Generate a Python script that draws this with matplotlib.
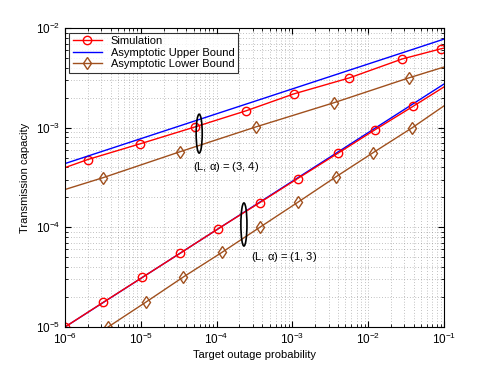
import numpy as np
import matplotlib
matplotlib.use('Agg')
import matplotlib.pyplot as plt
from matplotlib.patches import Ellipse

plt.rcParams['font.family'] = ['Liberation Sans', 'DejaVu Sans']
plt.rcParams['mathtext.fontset'] = 'custom'
plt.rcParams['mathtext.rm'] = 'Liberation Sans'
plt.rcParams['mathtext.it'] = 'Liberation Sans'

# (L, alpha) = (3, 4)
x_sim34 = [1e-6, 2.0e-6, 9.8e-6, 5.2e-5, 2.45e-4, 1.05e-3, 5.6e-3, 2.8e-2, 9.1e-2, 1e-1]
y_sim34 = [3.98e-4, 4.8e-4, 6.9e-4, 1.02e-3, 1.48e-3, 2.19e-3, 3.16e-3, 4.9e-3, 6.2e-3, 6.3e-3]
x_up34 = [1e-6, 1e-1]
y_up34 = [4.37e-4, 7.76e-3]
x_low34 = [1e-6, 3.2e-6, 3.3e-5, 3.3e-4, 3.5e-3, 3.4e-2, 1e-1]
y_low34 = [2.4e-4, 3.16e-4, 5.75e-4, 1.02e-3, 1.78e-3, 3.16e-3, 4.07e-3]

# (L, alpha) = (1, 3)
x_sim13 = [1e-6, 3.2e-6, 1.05e-5, 3.3e-5, 1.05e-4, 3.7e-4, 1.17e-3, 4.0e-3, 1.23e-2, 3.9e-2, 1e-1]
y_sim13 = [1e-5, 1.77e-5, 3.15e-5, 5.5e-5, 9.7e-5, 1.77e-4, 3.09e-4, 5.56e-4, 9.55e-4, 1.64e-3, 2.57e-3]
x_up13 = [1e-6, 1e-1]
y_up13 = [1e-5, 2.75e-3]
x_low13 = [3.7e-6, 1.17e-5, 3.6e-5, 1.17e-4, 3.7e-4, 1.17e-3, 3.8e-3, 1.15e-2, 3.8e-2, 1e-1]
y_low13 = [1e-5, 1.78e-5, 3.16e-5, 5.6e-5, 1e-4, 1.78e-4, 3.24e-4, 5.6e-4, 1e-3, 1.66e-3]

red = '#ff0000'
blue = '#0000ff'
brown = '#a0501e'

fig = plt.figure(figsize=(4.91, 3.69), dpi=100)
ax = fig.add_axes([0.1324, 0.1138, 0.772, 0.810])

mk_c = dict(marker='o', markersize=6, markerfacecolor='none', markeredgewidth=1.0)
mk_d = dict(marker='d', markersize=6, markerfacecolor='none', markeredgewidth=1.0)

ax.plot(x_sim34, y_sim34, color=red, lw=1.0, markevery=list(range(1, len(x_sim34) - 1)),
        label='Simulation', **mk_c)
ax.plot(x_up34, y_up34, color=blue, lw=1.0, label='Asymptotic Upper Bound')
ax.plot(x_low34, y_low34, color=brown, lw=1.0, markevery=list(range(1, len(x_low34) - 1)),
        label='Asymptotic Lower Bound', **mk_d)

ax.plot(x_up13, y_up13, color=blue, lw=1.0)
ax.plot(x_sim13, y_sim13, color=red, lw=1.0, markevery=list(range(0, len(x_sim13) - 1)), **mk_c)
ax.plot(x_low13, y_low13, color=brown, lw=1.0, markevery=list(range(0, len(x_low13) - 1)), **mk_d)

ax.set_xscale('log')
ax.set_yscale('log')
ax.set_xlim(1e-6, 1e-1)
ax.set_ylim(1e-5, 1e-2)

# MATLAB-style sparse dotted grid
ax.grid(True, which='both', linestyle=(0, (1, 3)), color='#888888', linewidth=0.5)
ax.tick_params(which='both', direction='in', top=True, right=True, labelsize=8.5)
ax.tick_params(which='major', length=4)
ax.tick_params(which='minor', length=2)
for s in ax.spines.values():
    s.set_linewidth(0.8)

ax.set_xlabel('Target outage probability', fontsize=8, labelpad=2)
ax.set_ylabel('Transmission capacity', fontsize=8, labelpad=4)

# annotations
ax.add_patch(Ellipse((0.354, 0.647), 0.016, 0.130, transform=ax.transAxes,
                     fill=False, edgecolor='black', lw=1.2, zorder=5))
ax.add_patch(Ellipse((0.472, 0.343), 0.016, 0.144, transform=ax.transAxes,
                     fill=False, edgecolor='black', lw=1.2, zorder=5))
ax.text(0.338, 0.534, r'(L, $\alpha$) = (3, 4)', transform=ax.transAxes, fontsize=8, va='center')
ax.text(0.491, 0.234, r'(L, $\alpha$) = (1, 3)', transform=ax.transAxes, fontsize=8, va='center')

leg = ax.legend(loc='upper left', fontsize=8, fancybox=False, edgecolor='black',
                borderaxespad=0.4, handlelength=2.6, labelspacing=0.15, borderpad=0.3)
leg.get_frame().set_linewidth(0.8)

fig.savefig('out.png', dpi=100)
